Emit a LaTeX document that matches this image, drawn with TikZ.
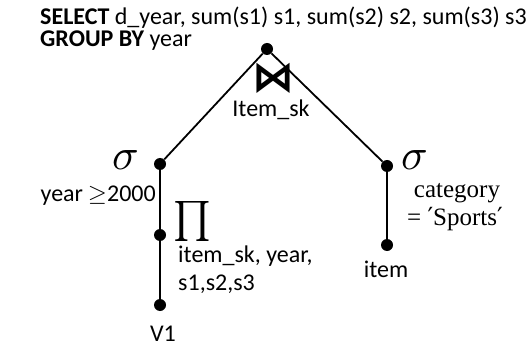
\documentclass[tikz,border=0pt]{standalone}
\usepackage{fontspec}
\setmainfont{Carlito}
\newfontfamily\serifrm{Liberation Serif}
\newfontfamily\dvserif{DejaVu Serif}
\newfontfamily\dejavu{DejaVu Sans}
\usepackage{unicode-math}
\setmathfont{Latin Modern Math}
\begin{document}
\begin{tikzpicture}[x=1pt,y=-1pt,
  dot/.style={circle,fill=black,inner sep=0pt,minimum size=12pt},
  edge/.style={line width=1.8pt},
  lbl/.style={inner sep=0pt,font=\fontsize{24}{28}\selectfont},
  slbl/.style={inner sep=0pt,font=\serifrm\fontsize{25}{28}\selectfont},
  op/.style={inner sep=0pt}]
\useasboundingbox (0,0) rectangle (529,347);
\node[dot] (top) at (267,49) {};
\node[dot] (ls) at (160,164) {};
\node[dot] (pi) at (160,235) {};
\node[dot] (v1) at (160,305) {};
\node[dot] (rs) at (387,166) {};
\node[dot] (it) at (387,245) {};
\draw[edge] (top) -- (ls);
\draw[edge] (top) -- (rs);
\draw[edge] (ls) -- (pi) -- (v1);
\draw[edge] (rs) -- (it);
\node[lbl,anchor=base west] (sel) at (40,25) {\textbf{SELECT} d\_year, sum(s1) s1, sum(s2) s2, sum(s3) s3};
\node[lbl,anchor=base west] (grp) at (40,47) {\textbf{GROUP BY} year};
\node[op] (join) at (273,78) {\dejavu\fontsize{42}{42}\selectfont\bfseries ⋈};
\node[lbl,anchor=base] (jl) at (271,117) {Item\_sk};
\node[op] (lsig) at (126,160) {\fontsize{44}{44}\selectfont$\sigma$};
\node[lbl,anchor=base east] (ly) at (156,201) {year $\geq$2000};
\node[op] (pis) at (192,221) {\fontsize{40}{40}\selectfont$\prod$};
\node[lbl,anchor=base west] (pl1) at (178,262) {item\_sk, year,};
\node[lbl,anchor=base west] (pl2) at (178,290) {s1,s2,s3};
\node[lbl,anchor=base] (v1l) at (163,341) {V1};
\node[op] (rsig) at (415,160) {\fontsize{44}{44}\selectfont$\sigma$};
\node[slbl,anchor=base] (cat) at (457,197) {category};
\node[slbl,anchor=base] (spt) at (455,225) {= {\dvserif ′}Sports{\dvserif ′}};
\node[lbl,anchor=base] (itl) at (386,277) {item};
\end{tikzpicture}
\end{document}
